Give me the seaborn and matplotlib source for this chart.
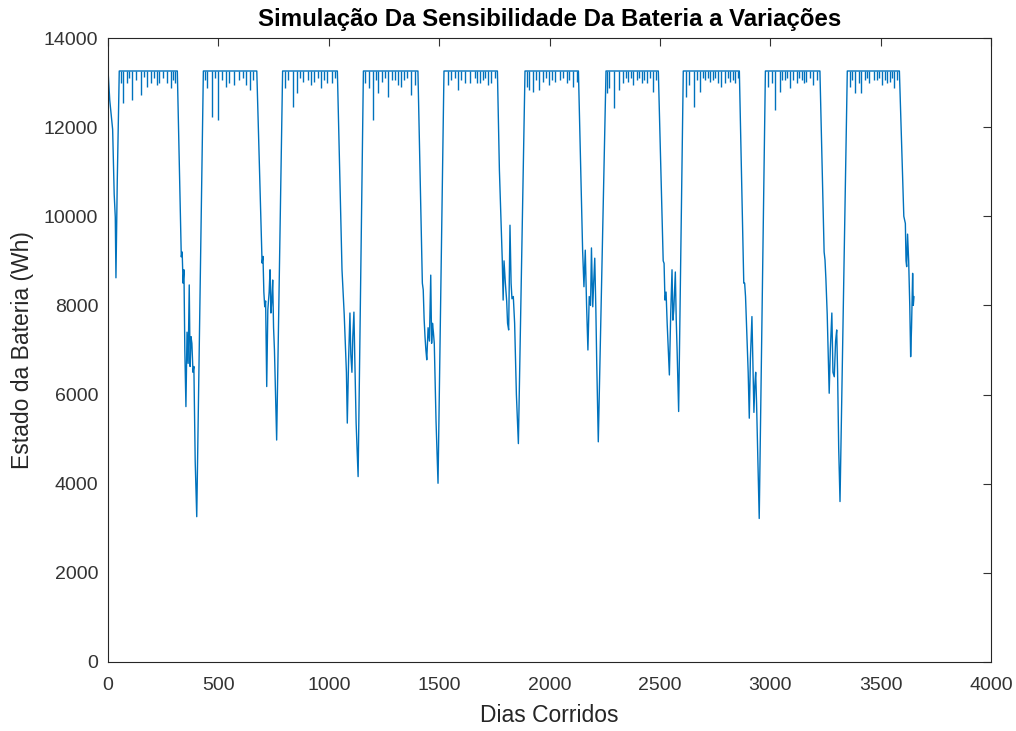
import pandas as pd
import matplotlib
matplotlib.use("Agg")
import matplotlib.pyplot as plt
import seaborn as sns

# estilo parecido ao MATLAB
sns.set_theme(style="white")
plt.rcParams['font.family'] = ['Liberation Sans', 'DejaVu Sans']

# -------------------- DADOS --------------------
# capacidade maxima da bateria (Wh) - topo dos platos
TOPO = 13260

# curva principal: dias corridos e estado da bateria (Wh)
dias = [
    0, 8, 21, 28, 33, 36, 42, 51,
    314, 332, 336, 340, 344, 348, 353, 358, 363, 368, 372, 376, 380, 385, 389, 395, 402, 432,
    674, 698, 702, 706, 710, 714, 719, 724, 730, 734, 738, 742, 746, 750, 754, 764, 791,
    1039, 1060, 1066, 1070, 1075, 1080, 1084, 1090, 1096, 1100, 1105, 1109, 1114, 1118, 1124, 1133, 1157,
    1404, 1424, 1428, 1432, 1436, 1440, 1444, 1450, 1456, 1462, 1466, 1470, 1474, 1478, 1486, 1495, 1522,
    1764, 1773, 1786, 1790, 1794, 1800, 1806, 1810, 1815, 1821, 1826, 1830, 1836, 1842, 1850, 1859, 1889,
    2131, 2150, 2156, 2162, 2168, 2174, 2180, 2186, 2190, 2196, 2200, 2205, 2210, 2214, 2221, 2256,
    2493, 2515, 2519, 2523, 2528, 2533, 2538, 2543, 2549, 2555, 2559, 2563, 2570, 2574, 2578, 2585, 2606,
    2860, 2880, 2884, 2888, 2893, 2900, 2905, 2910, 2917, 2922, 2926, 2930, 2934, 2938, 2944, 2950, 2978,
    3225, 3244, 3248, 3252, 3258, 3262, 3267, 3272, 3279, 3284, 3290, 3296, 3301, 3305, 3310, 3316, 3349,
    3585, 3605, 3612, 3615, 3618, 3622, 3627, 3632, 3636, 3640, 3645, 3648, 3651,
]
estado = [
    13280, 12600, 11950, 10500, 9980, 8620, 10800, 13260,
    13260, 9090, 9200, 8500, 8800, 7000, 5730, 7400, 6700, 8460, 6630, 7300, 7150, 6500, 6630, 4500, 3260, 13260,
    13260, 8950, 9100, 8300, 7970, 8100, 6180, 7900, 8300, 8800, 7830, 8100, 8570, 7500, 7000, 4980, 13260,
    13260, 8800, 8200, 7800, 7150, 6500, 5360, 6800, 7830, 6900, 6500, 7300, 7850, 6800, 5360, 4160, 13260,
    13260, 8500, 8350, 7700, 7300, 7000, 6780, 7500, 7200, 8680, 7150, 7600, 7400, 7150, 5400, 4010, 13260,
    13260, 11040, 9020, 8120, 9000, 8500, 8100, 7600, 7450, 9800, 8500, 8150, 8200, 7600, 6000, 4900, 13260,
    13260, 9240, 8420, 9240, 8000, 7000, 8200, 8000, 9290, 7970, 8500, 9060, 7900, 6700, 4940, 13260,
    13260, 9000, 8945, 8120, 8300, 7600, 7000, 6440, 7800, 8800, 7670, 7900, 8750, 7700, 7000, 5620, 13260,
    13260, 8500, 8500, 8200, 7500, 6500, 5470, 6800, 7750, 6500, 5600, 6200, 6500, 5800, 4500, 3220, 13260,
    13260, 9200, 9020, 8600, 7800, 7000, 6030, 7000, 7830, 6500, 6400, 7200, 7450, 6500, 4800, 3600, 13260,
    13260, 10000, 9840, 9000, 8870, 9600, 9000, 8000, 6850, 7500, 8720, 8000, 8200,
]

# quedas curtas nos platos (dia, valor minimo em Wh)
picos_dias = [
    58, 69, 84, 95, 109, 125, 151, 165, 178, 195, 208, 220, 233, 250, 266, 284, 295, 305,
    440, 450, 471, 485, 498, 515, 534, 550, 571, 594, 610, 625, 643, 658,
    803, 815, 837, 858, 872, 885, 905, 918, 931, 950, 964, 980, 994, 1015, 1028,
    1164, 1184, 1202, 1212, 1225, 1240, 1255, 1270, 1285, 1300, 1312, 1326, 1340, 1355, 1371, 1391,
    1539, 1555, 1570, 1585, 1600, 1615, 1640, 1661, 1672, 1685, 1698, 1707, 1720, 1737, 1752,
    1897, 1909, 1927, 1940, 1954, 1972, 1985, 1999, 2012, 2024, 2047, 2060, 2077, 2090, 2105, 2123,
    2259, 2271, 2292, 2316, 2334, 2347, 2357, 2368, 2379, 2395, 2405, 2417, 2430, 2440, 2455, 2467, 2481,
    2618, 2634, 2655, 2670, 2682, 2695, 2704, 2716, 2727, 2740, 2750, 2762, 2775, 2797, 2809, 2818, 2830, 2841, 2852,
    2991, 3006, 3021, 3043, 3055, 3066, 3078, 3089, 3102, 3119, 3130, 3142, 3153, 3164, 3178, 3194, 3212,
    3361, 3372, 3385, 3400, 3412, 3429, 3440, 3449, 3470, 3482, 3494, 3505, 3518, 3527, 3543, 3552, 3561, 3576,
]
picos_estado = [
    13000, 12540, 12980, 13100, 12620, 13050, 12720, 13120, 12910, 13000, 13100, 12950, 12985, 13100, 12985, 12880, 13050, 12985,
    13050, 12870, 12230, 13100, 12160, 13050, 12910, 13000, 12950, 13060, 13100, 12950, 12830, 13050,
    12870, 13050, 12460, 12760, 13100, 13020, 13050, 12950, 13020, 13100, 12870, 13050, 12985, 12985, 13100,
    12985, 12870, 12160, 13050, 12760, 13020, 13100, 12680, 13050, 13060, 12950, 12910, 13050, 13100, 12720, 12945,
    12945, 13060, 13100, 12830, 13050, 12985, 12985, 13100, 13000, 12985, 13050, 13100, 12950, 12985, 13100,
    12910, 12830, 12795, 13050, 12830, 13020, 13100, 12945, 13050, 13020, 13060, 13100, 12985, 13050, 12910, 13020,
    12760, 12870, 12420, 12830, 12985, 13100, 13020, 13100, 12945, 13050, 13100, 12985, 13050, 12985, 13100, 12795, 13050,
    12680, 12945, 12460, 13050, 12795, 13100, 13060, 13100, 13020, 13050, 13100, 13000, 12910, 12985, 13100, 13020, 13060, 12985, 13100,
    12910, 12985, 12385, 12795, 13050, 13060, 13100, 12870, 13050, 12985, 13100, 13060, 13000, 13020, 13100, 12945, 13060,
    12910, 13050, 12760, 12985, 12760, 13060, 13100, 12985, 13050, 13060, 13100, 12945, 13050, 12985, 13020, 13100, 12870, 13060,
]

df = pd.DataFrame({'Dias': dias, 'Estado': estado})

# -------------------- GRAFICO --------------------
fig = plt.figure(figsize=(10.16, 7.31), dpi=100)
ax = fig.add_axes([0.1063, 0.0944, 0.8691, 0.8536])

cor_linha = '#0072BD'
sns.lineplot(data=df, x='Dias', y='Estado', estimator=None, sort=False,
             color=cor_linha, linewidth=1.0, ax=ax)
ax.vlines(picos_dias, picos_estado, TOPO, color=cor_linha, linewidth=1.0)

ax.set_xlim(0, 4000)
ax.set_ylim(0, 14000)
ax.set_xticks(range(0, 4001, 500))
ax.set_yticks(range(0, 14001, 2000))

cor_eixo = '#262626'
for lado in ax.spines.values():
    lado.set_color(cor_eixo)
    lado.set_linewidth(0.8)
ax.tick_params(direction='in', length=6, width=0.8, top=True, right=True,
               colors='#333333', labelsize=14)
ax.tick_params(axis='y', pad=7)
ax.tick_params(axis='x', pad=11)

ax.set_title('Simulação Da Sensibilidade Da Bateria a Variações',
             fontsize=17.3, fontweight='bold', color='black', pad=9)
ax.set_xlabel('Dias Corridos', fontsize=16.5, color=cor_eixo, labelpad=7)
ax.set_ylabel('Estado da Bateria (Wh)', fontsize=16.5, color=cor_eixo, labelpad=7)

fig.savefig('out.png', dpi=100)
